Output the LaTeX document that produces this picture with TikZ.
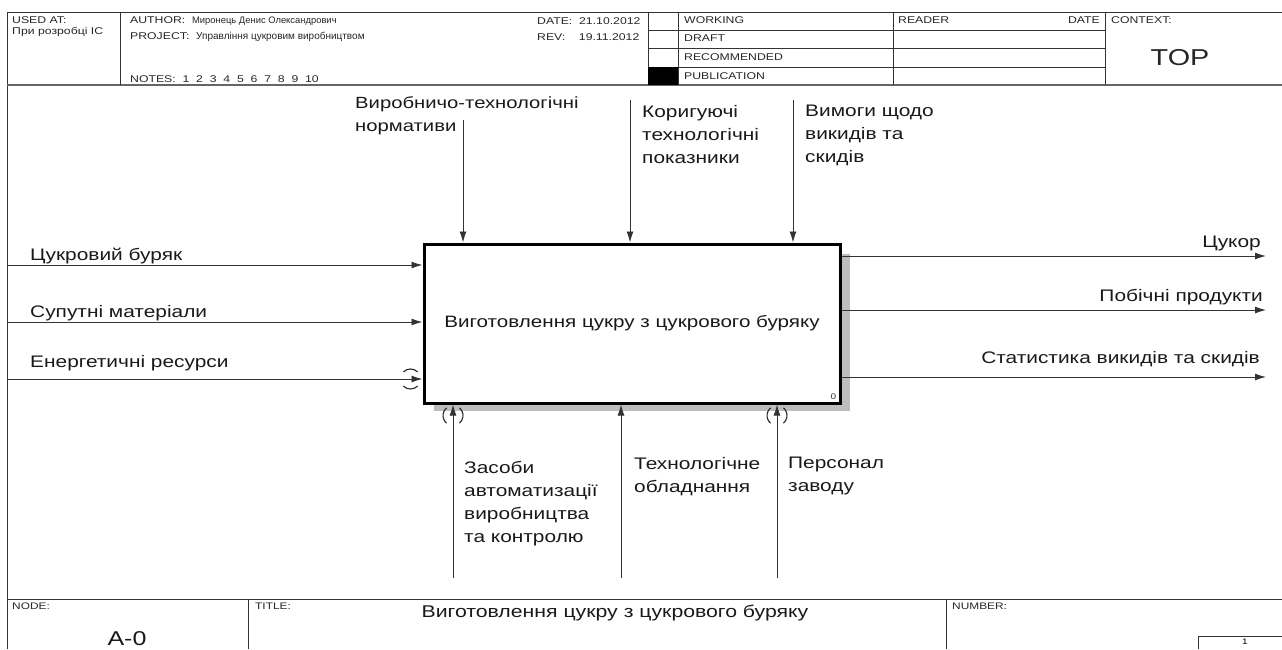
\documentclass[tikz,border=0pt]{standalone}
\usepackage{fontspec}
\setmainfont{Liberation Sans}[FakeStretch=1.25]
\newfontfamily\narrowsf{Liberation Sans}
\usetikzlibrary{arrows.meta}
\definecolor{ln}{HTML}{333333}
\definecolor{shadowgray}{HTML}{BDBDBD}
\begin{document}
\begin{tikzpicture}[x=1pt,y=-1pt,
  lbl/.style={font=\fontsize{16.7}{23}\selectfont, align=left, inner sep=0pt, text=black!90},
  hdr/.style={font=\fontsize{9.8}{12}\selectfont, inner sep=0pt, anchor=west, text=black!85},
  frm/.style={draw=ln, line width=1pt},
  arr/.style={draw=ln, line width=0.9pt, -{Latex[length=11pt,width=7pt]}},
  tun/.style={draw=black!85, line width=1.1pt}]
\useasboundingbox (0,0) rectangle (1282,649);
% ---------- frame ----------
\draw[frm] (7,649) -- (7,12) -- (1282,12);
\draw[frm, draw=black!60, line width=1.6pt] (7,85) -- (1282,85);
\draw[frm] (120,12) -- (120,85);
\draw[frm] (648,12) -- (648,85);
\draw[frm] (678,12) -- (678,85);
\draw[frm] (893,12) -- (893,85);
\draw[frm] (1105,12) -- (1105,85);
\draw[frm, line width=0.7pt] (648,30) -- (1105,30);
\draw[frm, line width=0.7pt] (648,48) -- (1105,48);
\draw[frm, line width=0.7pt] (648,67) -- (1105,67);
\fill[black] (648,67) rectangle (678,85);
% header texts
\node[hdr] (usedat) at (12,20) {USED AT:};
\node[hdr] (usedatv) at (12,32) {При розробці ІС};
\node[hdr] (author) at (130,21) {AUTHOR:\ \ {\narrowsf\fontsize{9.4}{11}\selectfont Миронець Денис Олександрович}};
\node[hdr] (project) at (130,37) {PROJECT:\ \ {\narrowsf\fontsize{10}{11}\selectfont Управління цукровим виробництвом}};
\node[hdr] (notes) at (130,79) {NOTES:\ \ 1\ \ 2\ \ 3\ \ 4\ \ 5\ \ 6\ \ 7\ \ 8\ \ 9\ \ 10};
\node[hdr] (date) at (537,21) {DATE:\ \ 21.10.2012};
\node[hdr] (rev) at (537,37) {REV:\ \ \ \ 19.11.2012};
\node[hdr] (working) at (684,20) {WORKING};
\node[hdr] (draft) at (684,38) {DRAFT};
\node[hdr] (recom) at (684,57) {RECOMMENDED};
\node[hdr] (publ) at (684,76) {PUBLICATION};
\node[hdr] (reader) at (898,20) {READER};
\node[hdr, anchor=east] (rdate) at (1100,20) {DATE};
\node[hdr] (context) at (1111,20) {CONTEXT:};
\node[font=\fontsize{23}{26}\selectfont, inner sep=0pt, text=black!85] (top) at (1180,58) {TOP};
% ---------- footer ----------
\draw[frm] (7,599) -- (1282,599);
\draw[frm] (248,599) -- (248,649);
\draw[frm] (946,599) -- (946,649);
\draw[frm, line width=0.7pt] (1282,636) -- (1198,636) -- (1198,649);
\node[hdr, font=\fontsize{9.5}{11}\selectfont] (nodelbl) at (12,606) {NODE:};
\node[hdr, font=\fontsize{9.5}{11}\selectfont] (titlelbl) at (255,606) {TITLE:};
\node[hdr, font=\fontsize{9.5}{11}\selectfont] (numlbl) at (952,606) {NUMBER:};
\node[font=\fontsize{17}{22}\selectfont, inner sep=0pt, text=black!90] (title) at (615,613) {Виготовлення цукру з цукрового буряку};
\node[font=\fontsize{20}{22}\selectfont, inner sep=0pt, text=black!90] (nodeid) at (127,639) {A-0};
\node[font=\fontsize{8}{10}\selectfont, inner sep=0pt] (pg) at (1245,642) {1};
% ---------- activity box ----------
\fill[shadowgray] (434,254) rectangle (850,411);
\node[draw=black, line width=3pt, fill=white, minimum width=416pt, minimum height=159pt,
      inner sep=0pt, font=\fontsize{16.5}{20}\selectfont, text=black!90] (box) at (632,323.5)
      {Виготовлення цукру з цукрового буряку};
\node[font=\fontsize{8}{10}\selectfont, inner sep=0pt, anchor=south east, text=black!80] (boxno) at ([xshift=-5pt,yshift=5pt]box.south east) {0};
% ---------- inputs ----------
\coordinate (i1) at (7,265);
\coordinate (i2) at (7,322);
\coordinate (i3) at (7,379);
\draw[arr] (i1) -- (i1 -| box.west);
\draw[arr] (i2) -- (i2 -| box.west);
\draw[arr] (i3) -- (i3 -| box.west);
\node[lbl, anchor=west] (li1) at (30,256) {Цукровий буряк};
\node[lbl, anchor=west] (li2) at (30,313) {Супутні матеріали};
\node[lbl, anchor=west] (li3) at (30,363) {Енергетичні ресурси};
\coordinate (t0) at ([xshift=-12pt]i3 -| box.west);
\draw[tun] (t0) ++(45:10) arc[start angle=45, end angle=135, radius=10];
\draw[tun] (t0) ++(225:10) arc[start angle=225, end angle=315, radius=10];
% ---------- outputs ----------
\coordinate (o1) at (1266,256);
\coordinate (o2) at (1266,310);
\coordinate (o3) at (1266,377);
\draw[arr] (o1 -| box.east) -- (o1);
\draw[arr] (o2 -| box.east) -- (o2);
\draw[arr] (o3 -| box.east) -- (o3);
\node[lbl, anchor=east] (lo1) at (1261,243) {Цукор};
\node[lbl, anchor=east] (lo2) at (1263,297) {Побічні продукти};
\node[lbl, anchor=east] (lo3) at (1260,359) {Статистика викидів та скидів};
% ---------- controls ----------
\coordinate (c1) at (463,120);
\coordinate (c2) at (630,100);
\coordinate (c3) at (793,100);
\draw[arr] (c1) -- (c1 |- box.north);
\draw[arr] (c2) -- (c2 |- box.north);
\draw[arr] (c3) -- (c3 |- box.north);
\node[lbl, anchor=north west, font=\fontsize{16.2}{23}\selectfont] (lc1) at (355,96) {Виробничо-технологічні\\нормативи};
\node[lbl, anchor=north west] (lc2) at (642,105) {Коригуючі\\технологічні\\показники};
\node[lbl, anchor=north west] (lc3) at (805,105) {Вимоги щодо\\викидів та\\скидів};
% ---------- mechanisms ----------
\coordinate (m1) at (453,578);
\coordinate (m2) at (621,578);
\coordinate (m3) at (777,578);
\draw[arr] (m1) -- (m1 |- box.south);
\draw[arr] (m2) -- (m2 |- box.south);
\draw[arr] (m3) -- (m3 |- box.south);
\foreach \m in {m1,m3}{
  \coordinate (tc) at ([yshift=-11pt]\m |- box.south);
  \draw[tun] (tc) ++(130:10) arc[start angle=130, end angle=230, radius=10];
  \draw[tun] (tc) ++(-50:10) arc[start angle=-50, end angle=50, radius=10];
}
\node[lbl, anchor=north west] (lm1) at (464,461) {Засоби\\автоматизації\\виробництва\\та контролю};
\node[lbl, anchor=north west] (lm2) at (634,457) {Технологічне\\обладнання};
\node[lbl, anchor=north west] (lm3) at (788,457) {Персонал\\заводу};
\end{tikzpicture}
\end{document}
